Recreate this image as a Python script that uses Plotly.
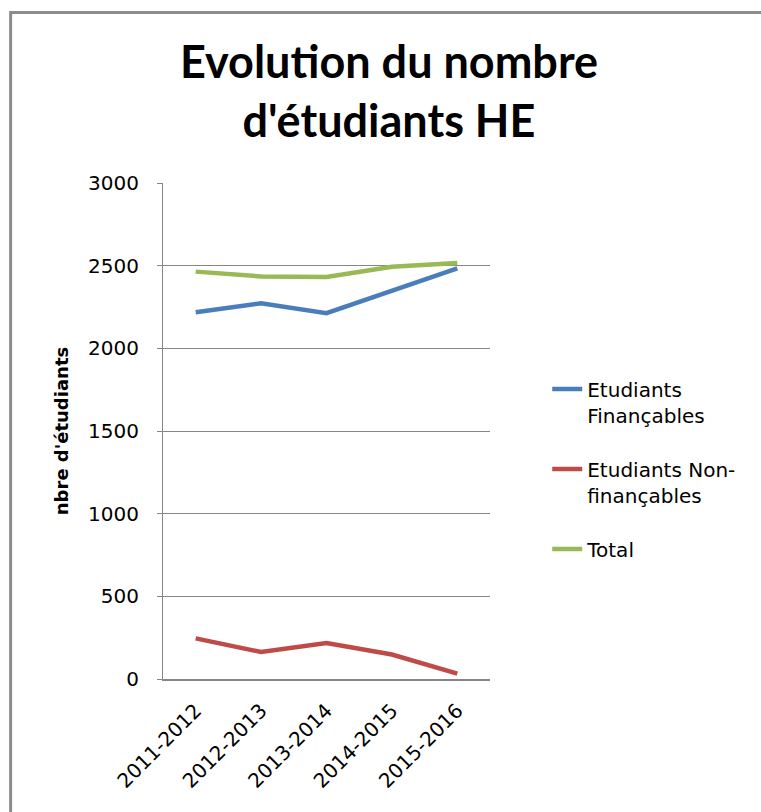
import plotly.graph_objects as go

years = ["2011-2012", "2012-2013", "2013-2014", "2014-2015", "2015-2016"]
financables = [2218, 2272, 2213, 2345, 2484]
non_financables = [246, 163, 218, 148, 32]
total = [2464, 2435, 2431, 2493, 2516]

series_names = ["Etudiants<br>Finançables", "Etudiants Non-<br>finançables", "Total"]
series_colors = ["#4A7EBB", "#BE4B48", "#98B954"]
y_ticks = [0, 500, 1000, 1500, 2000, 2500, 3000]

FONT = "DejaVu Sans"
TITLE_FONT = "Lato"

fig = go.Figure()
for i, (name, vals, col) in enumerate(zip(series_names, [financables, non_financables, total], series_colors)):
    fig.add_trace(go.Scatter(x=years, y=vals, mode="lines", name=name,
                             legendgroup=f"g{i}",
                             line=dict(color=col, width=4.5)))

fig.update_layout(
    width=761, height=812,
    margin=dict(l=163, r=271, t=183, b=133),
    paper_bgcolor="white", plot_bgcolor="white",
    font=dict(family=FONT, color="black"),
    title=dict(text="<b>Evolution du nombre<br>d'étudiants HE</b>",
               font=dict(family=TITLE_FONT, size=45, color="black"),
               x=389 / 761, xanchor="center", xref="container",
               y=1 - 78 / 812, yanchor="top", yref="container"),
    showlegend=True,
    legend=dict(x=1.175, xanchor="left", y=0.624, yanchor="top",
                font=dict(family=FONT, size=20, color="black"),
                valign="top", tracegroupgap=25, traceorder="grouped",
                bgcolor="rgba(0,0,0,0)"),
    shapes=[dict(type="rect", xref="paper", yref="paper",
                 x0=-0.466, x1=1.9, y0=-0.3, y1=1.344,
                 line=dict(color="#8C8C8C", width=3), fillcolor="rgba(0,0,0,0)",
                 layer="below")],
)

fig.update_xaxes(type="category", range=[-0.5, 4.5], showline=True,
                 linecolor="#868686", linewidth=2, showgrid=False, ticks="",
                 tickangle=-45, tickfont=dict(family=FONT, size=20, color="black"),
                 ticklabelstandoff=10, zeroline=False)
fig.update_yaxes(range=[0, 3000], tickvals=y_ticks, showline=True,
                 linecolor="#868686", linewidth=1, showgrid=True,
                 gridcolor="#868686", gridwidth=1, ticks="outside", ticklen=5,
                 tickcolor="#868686", tickfont=dict(family=FONT, size=20, color="black"),
                 ticklabelstandoff=14, zeroline=False,
                 title=dict(text="<b>nbre d'étudiants</b>",
                            font=dict(family=FONT, size=18, color="black"),
                            standoff=14))

fig.write_html("out.html", config={"displayModeBar": False},
               post_script="document.body.style.margin='0';")
